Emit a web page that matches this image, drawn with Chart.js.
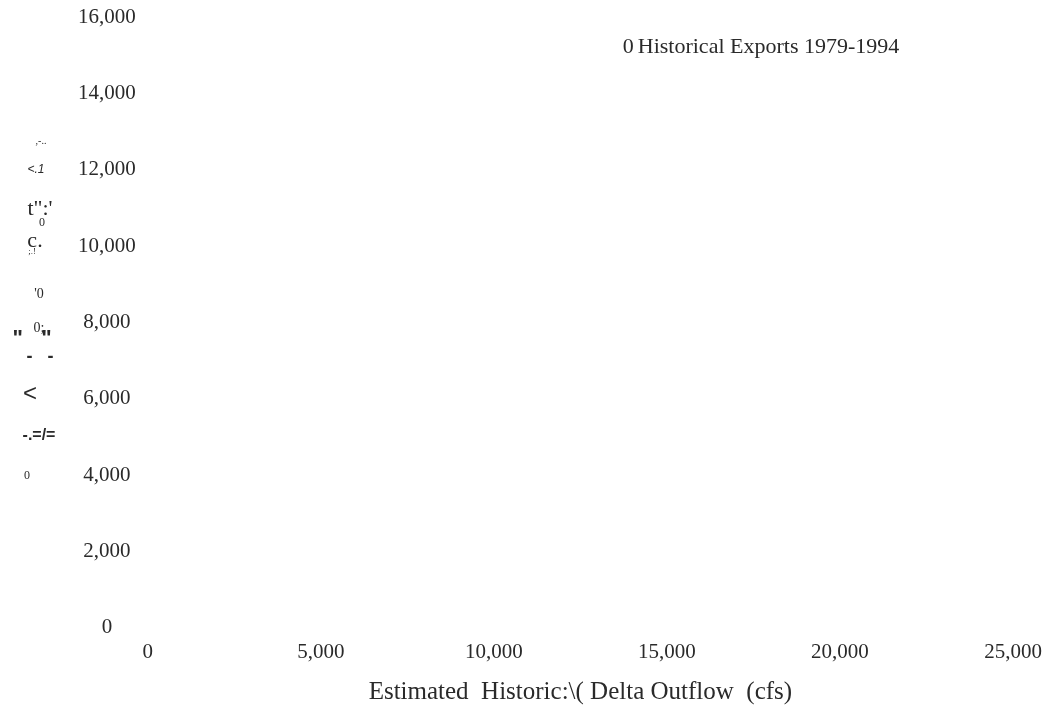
<!DOCTYPE html>
<html>
<head>
<meta charset="utf-8">
<script src="https://cdn.jsdelivr.net/npm/chart.js@4.4.1/dist/chart.umd.min.js"></script>
<style>
  html, body { margin: 0; padding: 0; background: #fff; }
  #wrap { width: 1046px; height: 711px; position: relative; }
</style>
</head>
<body>
<div id="wrap"><canvas id="chart"></canvas></div>
<script>
// series + axis values (no points survived in the picture)
const seriesLabel = 'Historical Exports 1979-1994';
const seriesMarker = '0';
const seriesPoints = [];
const xTicks = [0, 5000, 10000, 15000, 20000, 25000];
const yTicks = [0, 2000, 4000, 6000, 8000, 10000, 12000, 14000, 16000];
const xTitle = 'Estimated  Historic:\\( Delta Outflow  (cfs)';

// left-hand y title came out of the scan as broken fragments, kept as they are
const yTitleBits = [
  { t: ',-..',  x: 41, y: 141, f: '10px "Liberation Serif"' },
  { t: '<.1',   x: 36, y: 170, f: 'italic 12px "Liberation Sans"' },
  { t: 't":\'', x: 40, y: 209, f: '22px "Liberation Serif"' },
  { t: '0',     x: 42, y: 223, f: '12px "Liberation Serif"' },
  { t: 'c.',    x: 35, y: 241, f: '22px "Liberation Serif"' },
  { t: ';.!',   x: 32, y: 252, f: '9px "Liberation Serif"' },
  { t: '\'0',   x: 39, y: 294, f: '14px "Liberation Serif"' },
  { t: '0;',    x: 39, y: 328, f: '14px "Liberation Serif"' },
  { t: '"   "', x: 32, y: 339, f: 'bold 22px "Liberation Sans"' },
  { t: '-   -', x: 40, y: 357, f: 'bold 18px "Liberation Sans"' },
  { t: '<',     x: 30, y: 394, f: '24px "Liberation Sans"' },
  { t: '-.=/=', x: 39, y: 436, f: 'bold 16px "Liberation Sans"' },
  { t: '0',     x: 27, y: 476, f: '12px "Liberation Serif"' }
];

const textColor = '#2a2a2a';
const serif = '"Liberation Serif", "Times New Roman", serif';

const fmt = v => Number(v).toLocaleString('en-US');

// draws the loose y-title fragments and the one-line legend inside the plot
const scanText = {
  id: 'scanText',
  afterDraw(chart) {
    const ctx = chart.ctx;
    const area = chart.chartArea;
    ctx.save();
    ctx.fillStyle = textColor;
    ctx.textBaseline = 'middle';
    ctx.textAlign = 'center';
    yTitleBits.forEach(b => {
      ctx.font = b.f;
      ctx.fillText(b.t, b.x, b.y);
    });
    // legend
    ctx.textAlign = 'left';
    ctx.font = '22px ' + serif;
    const lx = area.left + 475;
    const ly = area.top + 30;
    ctx.fillText(seriesMarker, lx, ly);
    ctx.fillText(chart.data.datasets[0].label, lx + ctx.measureText(seriesMarker).width + 4, ly);
    ctx.restore();
  }
};

// end labels are allowed to hang past the plot, like in the scan
const noOverhang = axis => {
  axis.paddingLeft = 0;
  axis.paddingRight = 0;
  axis.paddingTop = 0;
  axis.paddingBottom = 0;
};

const ctx = document.getElementById('chart').getContext('2d');
const myChart = new Chart(ctx, {
  type: 'scatter',
  data: {
    datasets: [{
      label: seriesLabel,
      data: seriesPoints,
      pointStyle: 'circle',
      pointRadius: 4,
      borderColor: textColor,
      backgroundColor: 'rgba(0,0,0,0)'
    }]
  },
  options: {
    responsive: true,
    maintainAspectRatio: false,
    animation: false,
    layout: { padding: { left: 66, right: 33, top: 17, bottom: 0 } },
    plugins: {
      legend: { display: false },
      tooltip: { enabled: false }
    },
    scales: {
      x: {
        type: 'linear',
        min: xTicks[0],
        max: xTicks[xTicks.length - 1],
        afterBuildTicks: axis => { axis.ticks = xTicks.map(v => ({ value: v })); },
        afterFit: noOverhang,
        grid: { display: false, drawTicks: false },
        border: { display: false },
        ticks: {
          padding: 12,
          maxRotation: 0,
          color: textColor,
          font: { family: serif, size: 21 },
          callback: fmt
        },
        title: {
          display: true,
          text: xTitle,
          color: textColor,
          font: { family: serif, size: 25 },
          padding: { top: 0, bottom: 4 }
        }
      },
      y: {
        type: 'linear',
        min: yTicks[0],
        max: yTicks[yTicks.length - 1],
        afterBuildTicks: axis => { axis.ticks = yTicks.map(v => ({ value: v })); },
        afterFit: noOverhang,
        grid: { display: false, drawTicks: false },
        border: { display: false },
        ticks: {
          padding: 12,
          crossAlign: 'center',
          color: textColor,
          font: { family: serif, size: 21 },
          callback: fmt
        }
      }
    }
  },
  plugins: [scanText]
});
</script>
</body>
</html>
